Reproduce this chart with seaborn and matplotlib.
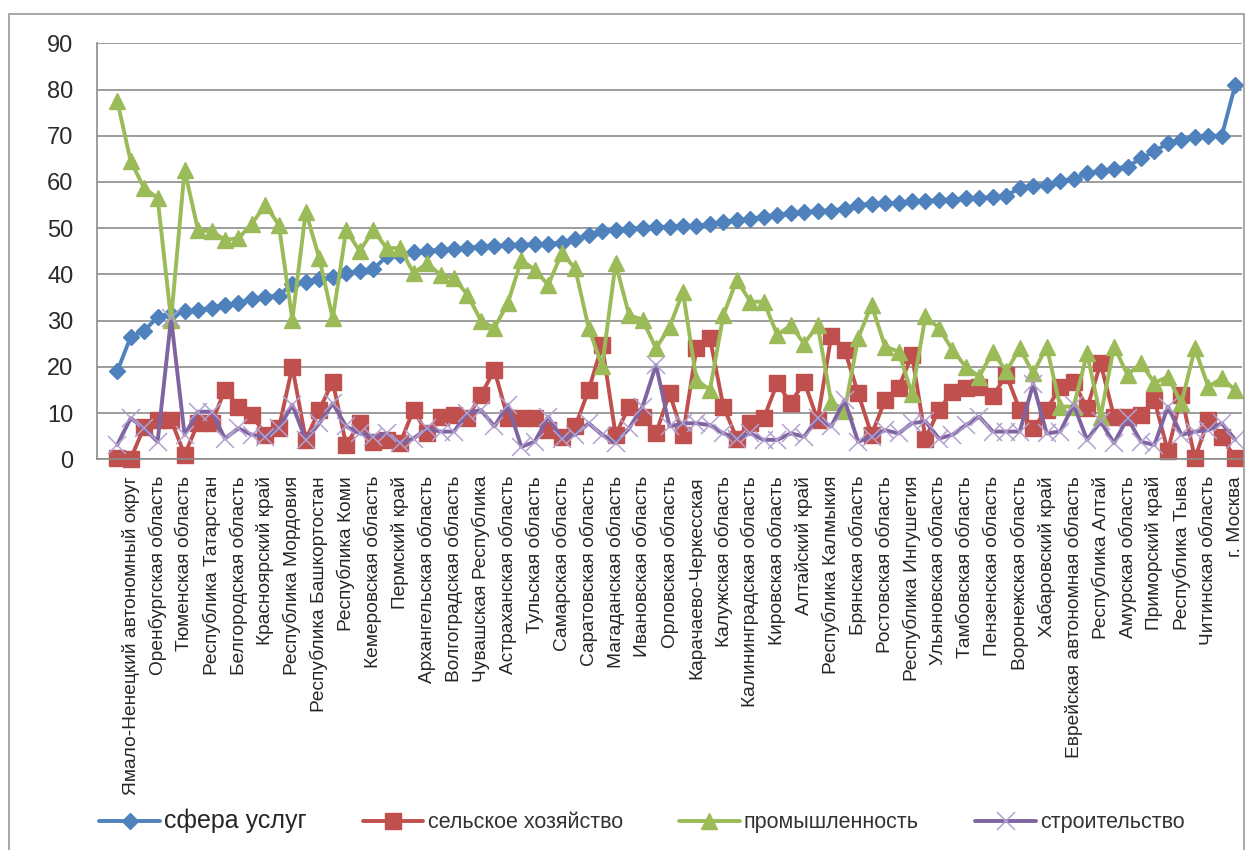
import numpy as np
import pandas as pd
import matplotlib
matplotlib.use('Agg')
import matplotlib.pyplot as plt
import seaborn as sns

# подписи показаны через одну (позиции 2, 4, ..., 84)
regions = ['Ямало-Ненецкий автономный округ', 'Оренбургская область', 'Тюменская область',
           'Республика Татарстан', 'Белгородская область', 'Красноярский край',
           'Республика Мордовия', 'Республика Башкортостан', 'Республика Коми',
           'Кемеровская область', 'Пермский край', 'Архангельская область',
           'Волгоградская область', 'Чувашская Республика', 'Астраханская область',
           'Тульская область', 'Самарская область', 'Саратовская область',
           'Магаданская область', 'Ивановская область', 'Орловская область',
           'Карачаево-Черкесская', 'Калужская область', 'Калининградская область',
           'Кировская область', 'Алтайский край', 'Республика Калмыкия', 'Брянская область',
           'Ростовская область', 'Республика Ингушетия', 'Ульяновская область',
           'Тамбовская область', 'Пензенская область', 'Воронежская область',
           'Хабаровский край', 'Еврейская автономная область', 'Республика Алтай',
           'Амурская область', 'Приморский край', 'Республика Тыва', 'Читинская область',
           'г. Москва']

services = [19, 26.5, 27.8, 30.8, 31.5, 32, 32.3, 32.8, 33.3, 33.9, 34.6, 35.1, 35.4, 38,
            38.3, 38.9, 39.5, 40.3, 40.7, 41.1, 43.9, 44.2, 44.8, 45.1, 45.3, 45.6, 45.8, 46,
            46.1, 46.3, 46.4, 46.5, 46.6, 46.9, 47.6, 48.6, 49.4, 49.6, 49.9, 50.1, 50.2, 50.3,
            50.4, 50.5, 50.9, 51.4, 51.8, 52, 52.5, 52.8, 53.2, 53.5, 53.7, 53.8, 54.2, 55,
            55.3, 55.4, 55.5, 55.8, 55.9, 56.1, 56.2, 56.5, 56.6, 56.7, 57, 58.7, 59.2, 59.4,
            60.3, 60.6, 61.9, 62.3, 62.9, 63.3, 65.1, 66.6, 68.4, 69.1, 69.8, 70, 70, 81]

agriculture = [0.3, 0.1, 7, 8.5, 8.5, 1, 7.8, 7.8, 15, 11.4, 9.6, 5.3, 6.7, 20,
               4.2, 10.7, 16.8, 3.1, 7.8, 3.8, 4.2, 3.5, 10.7, 5.6, 9.2, 9.6, 9, 13.9,
               19.3, 8.9, 8.9, 8.9, 6.3, 4.9, 7.1, 15, 24.7, 5.3, 11.4, 9.2, 5.6, 14.3,
               5.3, 24, 26.2, 11.4, 4.5, 7.8, 8.9, 16.5, 12.1, 16.8, 8.5, 26.6, 23.7, 14.3,
               5.3, 12.8, 15.4, 22.6, 4.5, 10.7, 14.6, 15.4, 15.7, 13.6, 18.3, 10.7, 6.7, 10.7,
               15.7, 16.8, 11, 20.8, 9.2, 9.2, 9.6, 12.8, 1.7, 13.9, 0.2, 8.5, 4.9, 0.2]

industry = [77.6, 64.5, 58.7, 56.5, 30.2, 62.6, 49.6, 49.3, 47.5, 47.8, 51, 55, 50.7, 30.2,
            53.6, 43.5, 30.5, 49.6, 45, 49.6, 45.7, 45.7, 40.3, 42.4, 39.9, 39.2, 35.6, 30,
            28.4, 33.8, 43.1, 41, 37.7, 44.6, 41.3, 28.4, 20.1, 42.4, 31.2, 30.2, 24, 28.6,
            36.2, 17.2, 15, 31.2, 38.8, 34.1, 34.1, 26.9, 29, 25, 29, 12.5, 10.5, 26.2,
            33.4, 24.4, 23.3, 14.2, 30.9, 28.4, 23.7, 20, 17.9, 23.3, 19, 24, 18.6, 24.4,
            11.4, 11.4, 22.9, 9.2, 24.4, 18.3, 20.8, 16.5, 17.9, 12.1, 24, 15.7, 17.5, 15]

construction = [3.1, 8.9, 6.7, 3.8, 30.5, 5.3, 10.3, 10.3, 4.5, 6.7, 5.3, 4.9, 6.7, 11.8,
                4.2, 7.8, 12.1, 7.1, 5.6, 4.9, 5.6, 3.5, 4.5, 6.7, 6, 6, 10, 10.7,
                7.1, 11.8, 2.7, 3.8, 9.2, 4.5, 5.3, 7.8, 5.3, 3.5, 6.7, 11.4, 20.4, 7.1,
                7.8, 7.8, 7.4, 5.6, 4.5, 5.6, 4.2, 4.2, 5.6, 4.9, 8.9, 7.1, 12.8, 3.8,
                4.9, 6.3, 5.6, 7.8, 8.2, 4.5, 5.3, 7.4, 9.2, 6, 6, 6, 16.3, 5.6,
                6, 11.8, 4.2, 8.2, 3.5, 8.9, 3.8, 3.1, 11.4, 5.3, 6, 6.3, 7.8, 4.2]

x = np.arange(1, len(services) + 1)

sns.set_style('white')
plt.rcParams['font.family'] = ['Liberation Sans', 'DejaVu Sans']

W, H = 1247, 850
fig = plt.figure(figsize=(W / 100, H / 100), dpi=100)
ax = fig.add_axes([97 / W, 1 - 459.3 / H, (1242 - 97) / W, (459.3 - 43.3) / H])

grid_col = '#8c8c8c'

# сфера услуг
sns.lineplot(x=x, y=services, ax=ax, color='#4f81bd', marker='D', markersize=8,
             markeredgecolor='#4f81bd', markeredgewidth=1, linewidth=2.8,
             label='сфера услуг', clip_on=False)
# сельское хозяйство
sns.lineplot(x=x, y=agriculture, ax=ax, color='#c0504d', marker='s', markersize=11,
             markeredgecolor='#c0504d', markeredgewidth=1, linewidth=2.8,
             label='сельское хозяйство', clip_on=False)
# промышленность
sns.lineplot(x=x, y=industry, ax=ax, color='#9bbb59', marker='^', markersize=12,
             markeredgecolor='#9bbb59', markeredgewidth=1, linewidth=2.8,
             label='промышленность', clip_on=False)
# строительство
sns.lineplot(x=x, y=construction, ax=ax, color='#8064a2', marker='x', markersize=13,
             markeredgecolor='#b3a2cf', markeredgewidth=1.1, linewidth=2.8,
             label='строительство', clip_on=False)

ax.set_xlim(-0.5, len(services) + 0.5)
ax.set_ylim(0, 90)
ax.set_yticks(range(0, 91, 10))
ax.set_xlabel('')
ax.set_ylabel('')

ax.yaxis.grid(True, color=grid_col, linewidth=1.2)
ax.set_axisbelow(True)
for s in ['top', 'right']:
    ax.spines[s].set_visible(False)
for s in ['left', 'bottom']:
    ax.spines[s].set_color(grid_col)
    ax.spines[s].set_linewidth(1.2)

# деления между категориями, подписи через одну
ax.set_xticks(np.arange(-0.5, len(services) + 1, 1))
ax.set_xticklabels([])
ax.set_xticks(np.arange(2, len(services) + 1, 2), minor=True)
ax.set_xticklabels(regions, minor=True, rotation=90, fontsize=13.8)
ax.tick_params(axis='x', which='major', length=5, width=1.1, color=grid_col, direction='out')
ax.tick_params(axis='x', which='minor', length=0, pad=12)
ax.tick_params(axis='y', length=6, width=1.1, color=grid_col, labelsize=17, pad=11,
               labelcolor='#2a2a2a')

leg = ax.legend(loc='center', bbox_to_anchor=(80 / W, 1 - 836 / H, (1204 - 80) / W, 30 / H),
                bbox_transform=fig.transFigure, ncol=4, mode='expand', frameon=False,
                fontsize=15.5, handlelength=2.8, handletextpad=0.2)
leg.get_texts()[0].set_fontsize(18)
for t in leg.get_texts()[1:]:
    t.set_color('#333333')

fig.add_artist(plt.Rectangle((8.5 / W, -0.01), (1244 - 8.5) / W, 1.01 - 14 / H,
                             transform=fig.transFigure, fill=False, edgecolor='#999999',
                             linewidth=1.2))

fig.savefig('out.png', dpi=100)
